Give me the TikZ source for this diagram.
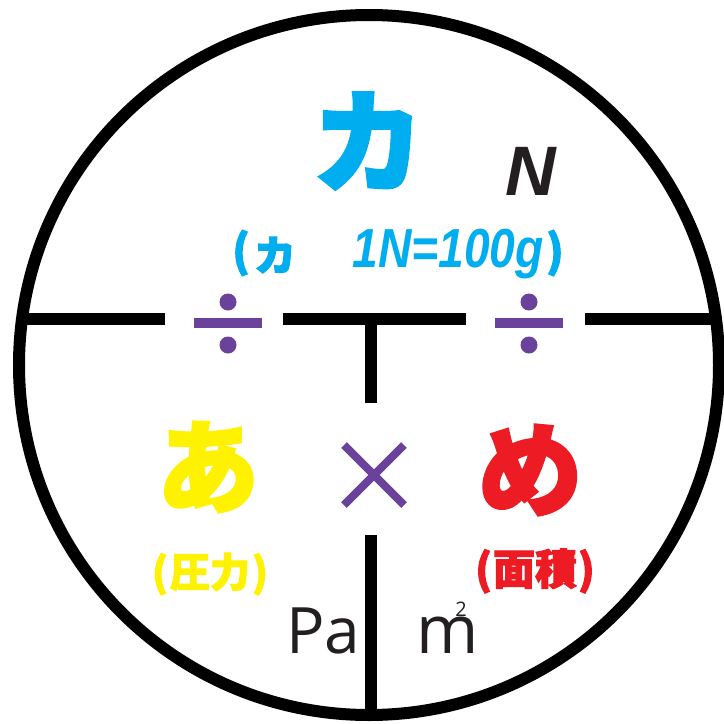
\documentclass[tikz,border=0pt]{standalone}
\usepackage{fontspec}
\usetikzlibrary{calc}
\setmainfont{Liberation Sans}
\newfontfamily\cjk{Noto Sans CJK JP}[BoldFeatures={FakeBold=2.5}]
\newfontfamily\osans{Open Sans}
\newfontfamily\heavysans{Liberation Sans}[BoldFeatures={FakeBold=1.5}]
\definecolor{kcyan}{HTML}{00AEEF}
\definecolor{kyellow}{HTML}{FFF200}
\definecolor{kred}{HTML}{ED1C24}
\definecolor{kpurple}{HTML}{6A419B}
\definecolor{kblack}{HTML}{231F20}
\tikzset{
  barline/.style={line width=12pt, black},
  txt/.style={inner sep=0pt, outer sep=0pt},
  opdot/.style={circle, fill=kpurple, minimum size=17pt, inner sep=0pt},
  opbar/.style={fill=kpurple, minimum width=68pt, minimum height=10pt, inner sep=0pt},
}
\begin{document}
\begin{tikzpicture}[x=1pt,y=-1pt]
\useasboundingbox (0,0) rectangle (724,724);
\fill[white] (0,0) rectangle (724,724);
% ring
\node[draw, circle, line width=12pt, minimum size=700pt, inner sep=0pt, outer sep=0pt] (ring) at (369,365) {};
% lines
\coordinate (hl) at (20,319);
\coordinate (hr) at (718,319);
\coordinate (g1a) at (165,319);
\coordinate (g1b) at (283,319);
\coordinate (g2a) at (466,319);
\coordinate (g2b) at (585,319);
\coordinate (vt) at (371,319);
\coordinate (vm) at (371,403);
\coordinate (vn) at (371,535);
\coordinate (vb) at (371,716);
\draw[barline] (hl) -- (g1a);
\draw[barline] (g1b) -- (g2a);
\draw[barline] (g2b) -- (hr);
\draw[barline] (vt) -- (vm);
\draw[barline] (vn) -- (vb);
% division signs
\node[opbar] (d1bar) at (228,323) {};
\node[opdot] (d1top) at (228,302) {};
\node[opdot] (d1bot) at (228,345) {};
\node[opbar] (d2bar) at (529,323) {};
\node[opdot] (d2top) at (529,302) {};
\node[opdot] (d2bot) at (529,345) {};
% times sign
\node[txt] (times) at (374,475) {};
\draw[kpurple, line width=8pt] ($(times)+(-30,-30)$) -- ($(times)+(30,30)$);
\draw[kpurple, line width=8pt] ($(times)+(-30,30)$) -- ($(times)+(30,-30)$);
% texts
\node[txt, text=kcyan] (ka) at (368,141) {\cjk\bfseries\fontsize{112}{112}\selectfont カ};
\node[txt, text=kblack] (N) at (531,171) {\heavysans\bfseries\itshape\fontsize{70}{70}\selectfont N};
\node[txt, text=kcyan] (lp1) at (241,253) {\cjk\bfseries\fontsize{44}{44}\selectfont (};
\node[txt, text=kcyan] (ka2) at (275,255) {\cjk\bfseries\fontsize{42}{42}\selectfont カ};
\node[txt, text=kcyan] (eq) at (448,254) {\scalebox{0.84}[1]{\heavysans\bfseries\itshape\fontsize{55}{55}\selectfont 1N=100g}};
\node[txt, text=kcyan] (rp1) at (555,253) {\cjk\bfseries\fontsize{44}{44}\selectfont )};
\node[txt, text=kyellow] (a) at (208,467) {\cjk\bfseries\fontsize{102}{102}\selectfont あ};
\node[txt, text=kred] (me) at (530,470) {\cjk\bfseries\fontsize{104}{104}\selectfont め};
\node[txt, text=kyellow] (atsu) at (210,574) {\cjk\bfseries\fontsize{40}{40}\selectfont (\hspace{2pt}圧力\hspace{2pt})};
\node[txt, text=kred] (men) at (535,571) {\cjk\bfseries\fontsize{42}{42}\selectfont (\hspace{1pt}面積\hspace{1pt})};
\node[txt, anchor=base west, text=kblack] (Pa) at (286,653) {\osans\fontsize{64}{64}\selectfont Pa};
\node[txt, anchor=base west, text=kblack] (m) at (416,653) {\osans\fontsize{67}{67}\selectfont m};
\node[txt, text=kblack] (sq) at (461,609) {\osans\fontsize{20}{20}\selectfont 2};
\end{tikzpicture}
\end{document}
